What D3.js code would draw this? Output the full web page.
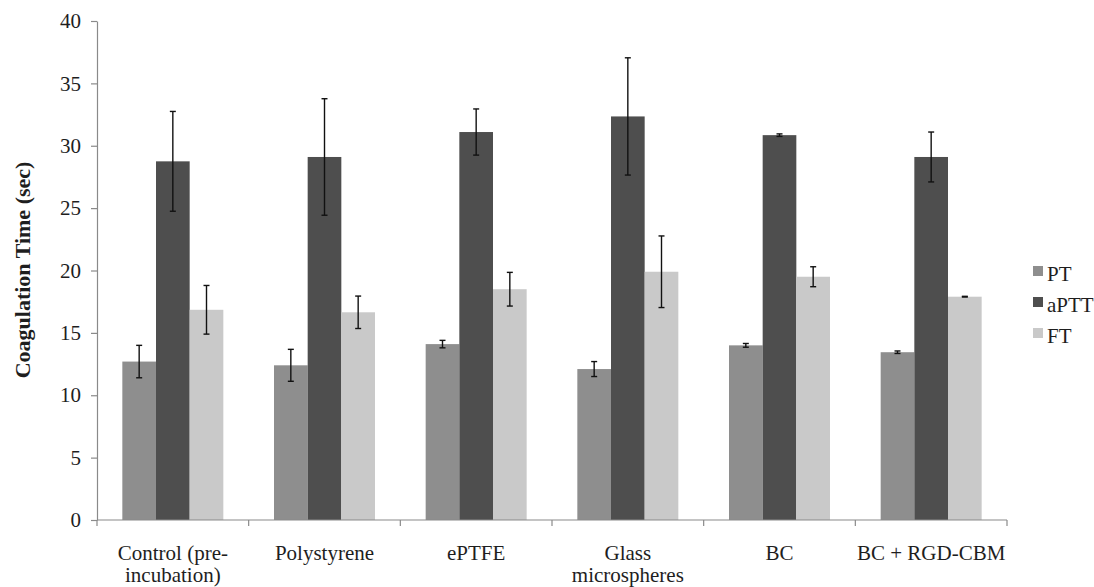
<!DOCTYPE html>
<html>
<head>
<meta charset="utf-8">
<script src="https://cdn.jsdelivr.net/npm/d3@7"></script>
<style>
  html, body { margin: 0; padding: 0; background: #fff; }
  svg { display: block; }
</style>
</head>
<body>
<svg id="chart" width="1094" height="587"></svg>
<script>
// Surfaces tested
const categories = [
  ["Control (pre-", "incubation)"],
  ["Polystyrene"],
  ["ePTFE"],
  ["Glass", "microspheres"],
  ["BC"],
  ["BC + RGD-CBM"]
];
const seriesNames = ["PT", "aPTT", "FT"];
const seriesColors = ["#8e8e8e", "#4e4e4e", "#c9c9c9"];

// Mean coagulation times (sec)
const ptValues   = [12.7, 12.4, 14.1, 12.1, 14.0, 13.45];
const apttValues = [28.75, 29.1, 31.1, 32.35, 30.85, 29.1];
const ftValues   = [16.85, 16.65, 18.5, 19.9, 19.5, 17.9];

// Standard deviations
const ptErrors   = [1.3, 1.28, 0.3, 0.6, 0.15, 0.1];
const apttErrors = [4.0, 4.67, 1.85, 4.7, 0.1, 2.0];
const ftErrors   = [1.95, 1.3, 1.35, 2.87, 0.8, 0.03];

const yTicks = [0, 5, 10, 15, 20, 25, 30, 35, 40];

const values = [ptValues, apttValues, ftValues];
const errors = [ptErrors, apttErrors, ftErrors];

const FONT = "'Liberation Serif', 'Times New Roman', Times, serif";
const TEXT_COLOR = "#1e1e1e";

const svg = d3.select("#chart");
const plotLeft = 97, plotRight = 1007, plotTop = 21, plotBottom = 520;

const x0 = d3.scaleBand()
  .domain(d3.range(categories.length))
  .range([plotLeft, plotRight])
  .paddingInner(0).paddingOuter(0);

const groupWidth = 101;
const x1 = d3.scaleBand()
  .domain(d3.range(seriesNames.length))
  .range([(x0.bandwidth() - groupWidth) / 2, (x0.bandwidth() + groupWidth) / 2])
  .padding(0);

const y = d3.scaleLinear().domain([0, 40]).range([plotBottom, plotTop]);

const axisColor = "#8a8a8a";

// Bars
const groups = svg.append("g").selectAll("g")
  .data(categories.map((c, i) => i))
  .join("g")
  .attr("transform", i => `translate(${x0(i)},0)`);

groups.selectAll("rect")
  .data(i => seriesNames.map((s, k) => ({ k, v: values[k][i], e: errors[k][i] })))
  .join("rect")
  .attr("x", d => x1(d.k))
  .attr("width", x1.bandwidth())
  .attr("y", d => y(d.v))
  .attr("height", d => y(0) - y(d.v))
  .attr("fill", d => seriesColors[d.k]);

// Error bars
const capHalf = 3;
const err = groups.selectAll("g.err")
  .data(i => seriesNames.map((s, k) => ({ k, v: values[k][i], e: errors[k][i] })))
  .join("g")
  .attr("class", "err")
  .attr("stroke", "#111")
  .attr("stroke-width", 1.4);

err.append("line")
  .attr("x1", d => x1(d.k) + x1.bandwidth() / 2)
  .attr("x2", d => x1(d.k) + x1.bandwidth() / 2)
  .attr("y1", d => y(d.v + d.e))
  .attr("y2", d => y(d.v - d.e));
err.append("line")
  .attr("x1", d => x1(d.k) + x1.bandwidth() / 2 - capHalf)
  .attr("x2", d => x1(d.k) + x1.bandwidth() / 2 + capHalf)
  .attr("y1", d => y(d.v + d.e))
  .attr("y2", d => y(d.v + d.e));
err.append("line")
  .attr("x1", d => x1(d.k) + x1.bandwidth() / 2 - capHalf)
  .attr("x2", d => x1(d.k) + x1.bandwidth() / 2 + capHalf)
  .attr("y1", d => y(d.v - d.e))
  .attr("y2", d => y(d.v - d.e));

// Y axis
const yAxis = svg.append("g")
  .attr("transform", `translate(${plotLeft},0)`)
  .call(d3.axisLeft(y).tickValues(yTicks).tickSize(6).tickPadding(10).tickSizeOuter(0));
yAxis.attr("font-family", FONT).attr("font-size", 21);
yAxis.select(".domain").attr("stroke", axisColor).attr("stroke-width", 1.2);
yAxis.selectAll(".tick line").attr("stroke", axisColor).attr("stroke-width", 1.2);
yAxis.selectAll(".tick text")
  .style("font-family", FONT)
  .style("font-size", "21px")
  .attr("fill", TEXT_COLOR);

// X axis: ticks at category boundaries
const xAxisG = svg.append("g");
xAxisG.append("line")
  .attr("x1", plotLeft).attr("x2", plotRight)
  .attr("y1", plotBottom).attr("y2", plotBottom)
  .attr("stroke", axisColor).attr("stroke-width", 1.2);
xAxisG.selectAll("line.tick")
  .data(d3.range(categories.length + 1))
  .join("line")
  .attr("class", "tick")
  .attr("x1", i => i < categories.length ? x0(i) : x0(i - 1) + x0.bandwidth())
  .attr("x2", i => i < categories.length ? x0(i) : x0(i - 1) + x0.bandwidth())
  .attr("y1", plotBottom).attr("y2", plotBottom + 6)
  .attr("stroke", axisColor).attr("stroke-width", 1.2);

const labels = xAxisG.selectAll("text")
  .data(categories)
  .join("text")
  .attr("text-anchor", "middle")
  .style("font-family", FONT)
  .style("font-size", "21px")
  .attr("fill", TEXT_COLOR)
  .attr("transform", (c, i) => `translate(${x0(i) + x0.bandwidth() / 2},560)`);
labels.selectAll("tspan")
  .data(c => c)
  .join("tspan")
  .attr("x", 0)
  .attr("y", (t, j) => j * 22)
  .text(t => t);

// Y axis title
svg.append("text")
  .attr("transform", "translate(30,270) rotate(-90)")
  .attr("text-anchor", "middle")
  .style("font-family", FONT)
  .style("font-size", "22px")
  .style("font-weight", "bold")
  .attr("fill", TEXT_COLOR)
  .text("Coagulation Time (sec)");

// Legend
const legend = svg.append("g").attr("transform", "translate(1033,266)");
const items = legend.selectAll("g")
  .data(seriesNames)
  .join("g")
  .attr("transform", (s, k) => `translate(0,${k * 31})`);
items.append("rect")
  .attr("width", 10).attr("height", 10)
  .attr("fill", (s, k) => seriesColors[k]);
items.append("text")
  .attr("x", 14).attr("y", 15)
  .style("font-family", FONT)
  .style("font-size", "21px")
  .attr("fill", TEXT_COLOR)
  .text(s => s);
</script>
</body>
</html>
